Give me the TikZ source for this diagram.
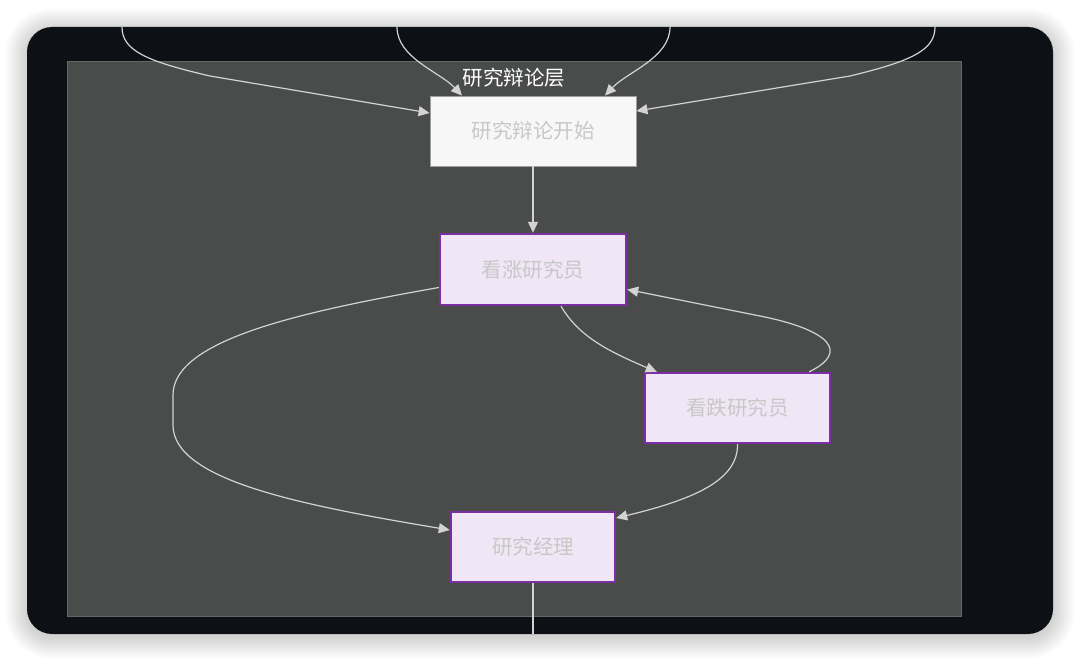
\documentclass[tikz,border=0pt]{standalone}
\usepackage{fontspec}
\setmainfont{Noto Sans CJK SC}
\usetikzlibrary{arrows.meta}
\definecolor{panel}{HTML}{0D1014}
\definecolor{cluster}{HTML}{4A4B4B}
\definecolor{clusterline}{HTML}{666868}
\definecolor{edge}{HTML}{D3D3D3}
\definecolor{lav}{HTML}{F0E6F5}
\definecolor{purp}{HTML}{7B2FA3}
\definecolor{ntext}{HTML}{C8C8C8}
\tikzset{
  basebox/.style={rectangle, inner sep=0pt, text=ntext, font=\fontsize{20.5}{24}\selectfont},
  startbox/.style={basebox, fill=white!97!black, draw=white!62!black, line width=0.8pt, minimum width=206pt, minimum height=70pt},
  rolebox/.style={basebox, fill=lav, draw=purp, line width=2.4pt},
  conn/.style={draw=edge, line width=1.2pt, -{Triangle[length=11pt,width=10pt,fill=edge]}},
  plainconn/.style={draw=edge, line width=1.2pt},
}
\begin{document}
\begin{tikzpicture}[x=1pt,y=-1pt]
\useasboundingbox (0,0) rectangle (1080,661);
\fill[white] (0,0) rectangle (1080,661);
% soft shadow
\foreach \i in {1,...,22}{
  \fill[black, opacity=0.006, rounded corners={25pt+\i pt}] (27-\i,27-\i+3) rectangle (1053+\i,634+\i+3);
}
% dark panel
\fill[panel, rounded corners=25pt] (27,27) rectangle (1053,634);
% cluster
\filldraw[fill=cluster, draw=clusterline, line width=1.2pt] (67.5,61.5) rectangle (961.5,616.5);
\node[text=white, font=\fontsize{20.5}{24}\selectfont, inner sep=0pt] (title) at (514,78) {研究辩论层};

% nodes
\node[startbox] (start) at (533,131) {研究辩论开始};
\node[rolebox, minimum width=186pt, minimum height=71pt] (bull) at (533,269.5) {看涨研究员};
\node[rolebox, minimum width=185pt, minimum height=70pt] (bear) at (737.5,408) {看跌研究员};
\node[rolebox, minimum width=164pt, minimum height=70pt] (mgr) at (533,547) {研究经理};

% free ends
\coordinate (t1) at (122,27);
\coordinate (t2) at (397,27);
\coordinate (t3) at (670,27);
\coordinate (t4) at (935,27);
\coordinate (bot) at (533,634);

% incoming edges from above
\draw[conn] (t1) .. controls (122,50) and (145,61) .. (210,76) -- ([yshift=18pt]start.west);
\draw[conn] (t2) .. controls (397,58) and (440,72) .. ([xshift=-71pt]start.north);
\draw[conn] (t3) .. controls (670,58) and (627,72) .. ([xshift=72pt]start.north);
\draw[conn] (t4) .. controls (935,50) and (912,61) .. (850,76) -- ([yshift=20pt]start.east);

% internal edges
\draw[conn] (start.south) -- (bull.north);
\draw[conn] ([xshift=28pt]bull.south) .. controls (578,335) and (605,350) .. ([xshift=13pt]bear.north west);
\draw[conn] ([xshift=-22pt]bear.north east) .. controls (850,352) and (830,330) .. (760,316) -- ([yshift=-20pt]bull.east);
\draw[conn] ([yshift=-18pt]bull.west) .. controls (300,312) and (173,340) .. (173,395) -- (173,425) .. controls (173,480) and (300,505) .. ([yshift=17pt]mgr.west);
\draw[conn] (bear.south) .. controls (738,478) and (700,498) .. ([yshift=29pt]mgr.east);
\draw[plainconn] (mgr.south) -- (bot);
\end{tikzpicture}
\end{document}
